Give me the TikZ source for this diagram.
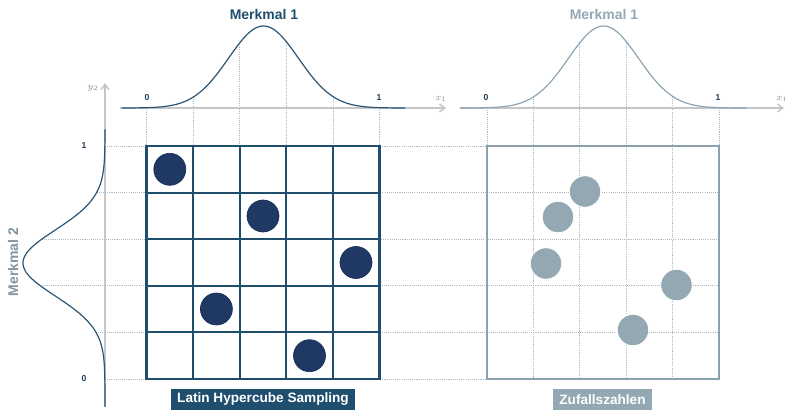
\documentclass[tikz,border=0pt]{standalone}
\usepackage{fontspec}
\setmainfont{Liberation Sans}
\usetikzlibrary{arrows.meta}
\definecolor{lhsblue}{HTML}{1F4E6E}
\definecolor{dotnavy}{HTML}{1F3864}
\definecolor{dotedge}{HTML}{18305A}
\definecolor{rgray}{HTML}{93A8B3}
\definecolor{rgrid}{HTML}{8BA1AE}
\definecolor{curveL}{HTML}{2C5574}
\definecolor{curveR}{HTML}{8FA4B1}
\definecolor{axisgray}{HTML}{C6C6C6}
\definecolor{guide}{HTML}{A9BAC6}
\definecolor{mtwo}{HTML}{7F95A3}
\definecolor{ticklbl}{HTML}{1F3F5C}
\begin{document}
\begin{tikzpicture}[x=0.75pt,y=-0.75pt,
  guideline/.style={guide, line width=0.6pt, dash pattern=on 0.8pt off 0.8pt},
  axisline/.style={axisgray, line width=1.1pt, -{Straight Barb[length=4pt,width=6pt]}},
  lgrid/.style={lhsblue, line width=1.6pt},
  ldot/.style={circle, fill=dotnavy, draw=dotedge, line width=0.5pt, minimum size=24pt, inner sep=0pt},
  rdot/.style={circle, fill=rgray, draw=white, line width=0.5pt, minimum size=23.5pt, inner sep=0pt},
  ticktext/.style={font=\bfseries\fontsize{6.5}{7}\selectfont, text=ticklbl, inner sep=0pt},
  axlbl/.style={font=\fontsize{7}{8}\selectfont, text=axisgray!70!black, inner sep=0pt},
  titletext/.style={font=\bfseries\fontsize{10.5}{12}\selectfont, inner sep=0pt},
  labelbox/.style={font=\bfseries\fontsize{10.2}{12}\selectfont, text=white, inner xsep=4.7pt, inner ysep=0pt, minimum height=15.75pt}
]
\useasboundingbox (0,0) rectangle (785,410);

% ---------- guide lines (dotted) ----------
% left top verticals
\draw[guideline] (146.5,108) -- (146.5,146);
\draw[guideline] (193.1,97) -- (193.1,146);
\draw[guideline] (239.7,43) -- (239.7,146);
\draw[guideline] (286.3,41.5) -- (286.3,146);
\draw[guideline] (332.9,96) -- (332.9,146);
\draw[guideline] (379.5,108) -- (379.5,146);
% right top verticals
\draw[guideline] (487,108) -- (487,146);
\draw[guideline] (533.4,97) -- (533.4,379);
\draw[guideline] (579.8,42.5) -- (579.8,379);
\draw[guideline] (626.2,42.5) -- (626.2,379);
\draw[guideline] (672.6,96.6) -- (672.6,379);
\draw[guideline] (719,108) -- (719,146);
% horizontals
\draw[guideline] (105,146) -- (487,146);
\draw[guideline] (96.5,192.6) -- (719,192.6);
\draw[guideline] (41.8,239.2) -- (719,239.2);
\draw[guideline] (40.4,285.8) -- (719,285.8);
\draw[guideline] (96,332.4) -- (719,332.4);
\draw[guideline] (105,379) -- (487,379);

% ---------- axes ----------
\coordinate (xaL0) at (120,108);
\coordinate (xaL1) at (446,108);
\coordinate (xaR0) at (460,108);
\coordinate (xaR1) at (784,108);
\coordinate (ya0) at (105,407);
\coordinate (ya1) at (105,83);
\draw[axisline] (xaL0) -- (xaL1);
\draw[axisline] (xaR0) -- (xaR1);
\draw[axisline] (ya0) -- (ya1);
\node[axlbl] (x1L) at (441,99) {$x_1$};
\node[axlbl] (x1R) at (782,99) {$x_1$};
\node[axlbl] (y2) at (93,88) {$y_2$};

% ---------- density curves ----------
\draw[curveL, line width=0.9pt] plot[domain=-4.05:4.05, samples=140, smooth] ({263.5+35*\x},{108-82*exp(-\x*\x/2)});
\draw[curveR, line width=0.9pt] plot[domain=-4.1:4.1, samples=140, smooth] ({603.5+35*\x},{108-82*exp(-\x*\x/2)});
\draw[curveL, line width=0.9pt] plot[domain=-4.05:4.35, samples=140, smooth] ({105-82*exp(-\x*\x/2)},{263+33*\x});

% ---------- left grid (LHS) ----------
\foreach \i in {0,...,5} {
  \draw[lgrid] ({146.5+46.6*\i},146) -- ({146.5+46.6*\i},379);
  \draw[lgrid] (146.5,{146+46.6*\i}) -- (379.5,{146+46.6*\i});
}
\draw[lgrid, line join=miter] (146.5,146) rectangle (379.5,379);

% ---------- right grid ----------
\draw[rgrid, line width=1.3pt] (487,146) rectangle (719,379);

% ---------- dots ----------
\node[ldot] (l1) at (169.8,169.3) {};
\node[ldot] (l2) at (263,216) {};
\node[ldot] (l3) at (356,262.5) {};
\node[ldot] (l4) at (216.4,309) {};
\node[ldot] (l5) at (309.5,355.7) {};

\node[rdot] (r1) at (585,191.5) {};
\node[rdot] (r2) at (558,217) {};
\node[rdot] (r3) at (546,263.5) {};
\node[rdot] (r4) at (676.5,285) {};
\node[rdot] (r5) at (633,330) {};

% ---------- texts ----------
\node[titletext, text=lhsblue] (t1) at (264,14) {Merkmal 1};
\node[titletext, text=rgray] (t2) at (604,14) {Merkmal 1};
\node[titletext, text=mtwo, rotate=90] (t3) at (13,262) {Merkmal 2};

\node[ticktext] (a0) at (147,98) {0};
\node[ticktext] (a1) at (379,98) {1};
\node[ticktext] (b0) at (486,98) {0};
\node[ticktext] (b1) at (718,98) {1};
\node[ticktext] (c1) at (84,146) {1};
\node[ticktext] (c0) at (84,379) {0};

\node[labelbox, fill=lhsblue] (lbl1) at (263,399.5) {Latin Hypercube Sampling};
\node[labelbox, fill=rgray] (lbl2) at (602.5,399.5) {Zufallszahlen};
\end{tikzpicture}
\end{document}
